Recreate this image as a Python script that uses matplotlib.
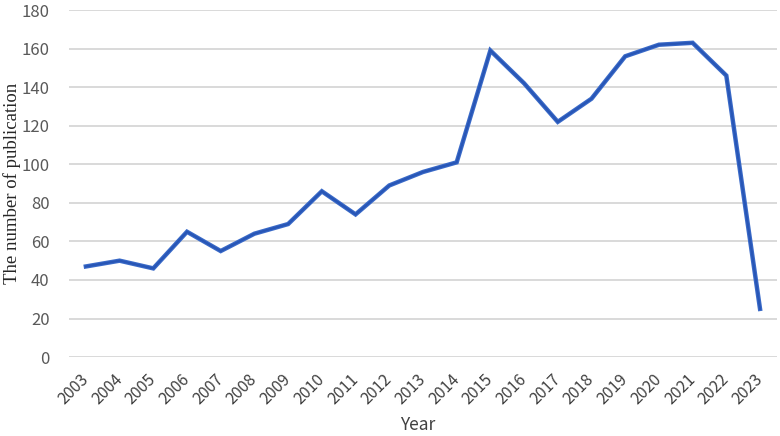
import matplotlib
matplotlib.use("Agg")
import matplotlib.pyplot as plt

years = [str(y) for y in range(2003, 2024)]
counts = [47, 50, 46, 65, 55, 64, 69, 86, 74, 89, 96, 101,
          159, 142, 122, 134, 156, 162, 163, 146, 25]
y_ticks = list(range(0, 181, 20))

fig = plt.figure(figsize=(7.8, 4.36), dpi=100)
ax = fig.add_axes([0.0885, 0.181, 0.9075, 0.796])

x = list(range(len(years)))
ax.plot(x, counts, color="#3A6AC8", linewidth=3.2, solid_joinstyle="miter", zorder=3)
ax.plot(x, counts, color="#2856B6", linewidth=1.6, solid_joinstyle="miter", zorder=4)

ax.set_xlim(-0.5, len(years) - 0.5)
ax.set_ylim(0, 180)
ax.set_yticks(y_ticks)
ax.set_yticklabels([str(v) for v in y_ticks], fontsize=12, color="#595959",
                   family=["Noto Sans CJK SC", "DejaVu Sans"])
ax.set_xticks(x)
ax.set_xticklabels(years, rotation=45, ha="right", va="center",
                   rotation_mode="anchor", fontsize=11.5, color="#404040",
                   family=["Noto Sans CJK SC", "DejaVu Sans"])
ax.tick_params(axis="both", length=0)
ax.tick_params(axis="y", pad=14)
ax.tick_params(axis="x", pad=14)
ax.yaxis.grid(True, color="#D9D9D9", linewidth=1.4)
ax.set_axisbelow(True)
for s in ax.spines.values():
    s.set_visible(False)

ax.set_ylabel("The number of publication", fontsize=13.5, family="Liberation Serif",
              color="#262626", va="center")
ax.yaxis.set_label_coords(-0.081, 0.5)
fig.text(0.536, 0.005, "Year", fontsize=12.5, color="#404040", ha="center", va="bottom",
         family=["Noto Sans CJK SC", "DejaVu Sans"])

fig.savefig("out.png", dpi=100)
